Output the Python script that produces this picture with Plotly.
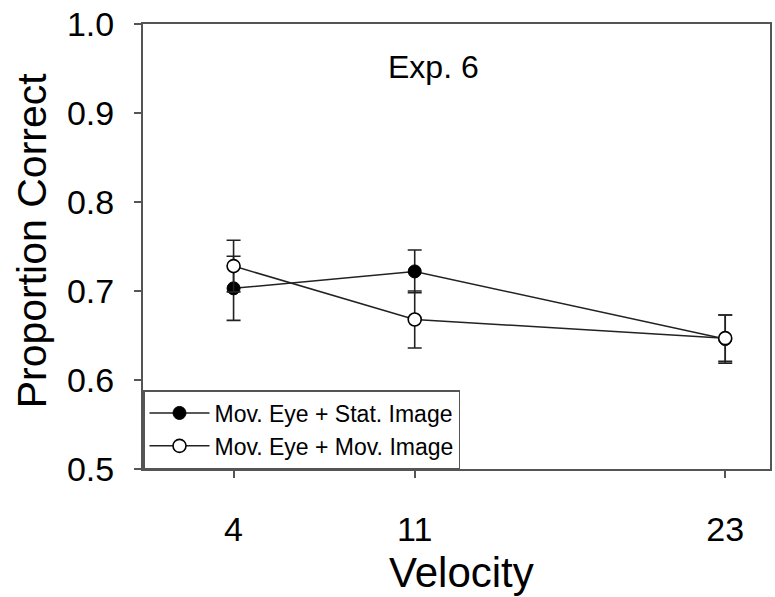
import plotly.graph_objects as go

velocity = [4, 11, 23]
stat_image = [0.703, 0.722, 0.646]
stat_err = [0.036, 0.024, 0.027]
mov_image = [0.728, 0.668, 0.647]
mov_err = [0.029, 0.032, 0.026]
y_ticks = [0.5, 0.6, 0.7, 0.8, 0.9, 1.0]
y_ticklabels = ["0.5", "0.6", "0.7", "0.8", "0.9", "1.0"]

FONT = "Liberation Sans, Arial, Helvetica, sans-serif"

fig = go.Figure()
fig.add_trace(go.Scatter(
    x=velocity, y=stat_image, mode="lines+markers",
    name="Mov. Eye + Stat. Image",
    line=dict(color="#222222", width=1.5),
    marker=dict(symbol="circle", size=13, color="black",
                line=dict(color="black", width=1)),
    error_y=dict(type="data", array=stat_err, visible=True,
                 color="#222222", thickness=1.6, width=7),
))
fig.add_trace(go.Scatter(
    x=velocity, y=mov_image, mode="lines+markers",
    name="Mov. Eye + Mov. Image",
    line=dict(color="#222222", width=1.5),
    marker=dict(symbol="circle", size=13, color="white",
                line=dict(color="black", width=1.6)),
    error_y=dict(type="data", array=mov_err, visible=True,
                 color="#222222", thickness=1.6, width=7),
))

fig.update_layout(
    width=775, height=597,
    margin=dict(l=143, r=3, t=24, b=128),
    paper_bgcolor="white", plot_bgcolor="white",
    font=dict(family=FONT, color="black"),
    showlegend=True,
    legend=dict(
        x=0, y=0, xanchor="left", yanchor="bottom",
        bgcolor="white", bordercolor="#555555", borderwidth=1.5,
        font=dict(size=23, family=FONT, color="black"),
        tracegroupgap=0, itemwidth=60,
    ),
    annotations=[
        dict(text="Exp. 6", x=0.4626, y=0.903, xref="paper", yref="paper",
             showarrow=False, font=dict(size=32, family=FONT, color="black"),
             xanchor="center", yanchor="middle"),
        dict(text="Proportion Correct", x=-0.1765, y=0.5146, xref="paper", yref="paper",
             showarrow=False, textangle=-90,
             font=dict(size=41, family=FONT, color="black"),
             xanchor="center", yanchor="middle"),
        dict(text="Velocity", x=0.5087, y=-0.2315, xref="paper", yref="paper",
             showarrow=False, font=dict(size=42, family=FONT, color="black"),
             xanchor="center", yanchor="middle"),
    ],
)

fig.update_xaxes(
    range=[0.5, 24.73], tickvals=velocity, ticktext=[str(v) for v in velocity],
    showgrid=False, zeroline=False,
    showline=True, linecolor="#555555", linewidth=2, mirror=True,
    ticks="outside", ticklen=7, tickwidth=1.5, tickcolor="#555555",
    tickfont=dict(size=34, family=FONT, color="black"),
    ticklabelstandoff=22,
)
fig.update_yaxes(
    range=[0.5, 1.0], tickvals=y_ticks, ticktext=y_ticklabels,
    showgrid=False, zeroline=False,
    showline=True, linecolor="#555555", linewidth=2, mirror=True,
    ticks="outside", ticklen=7, tickwidth=1.5, tickcolor="#555555",
    tickfont=dict(size=34, family=FONT, color="black"),
    ticklabelstandoff=13,
)

fig.write_html("out.html")
